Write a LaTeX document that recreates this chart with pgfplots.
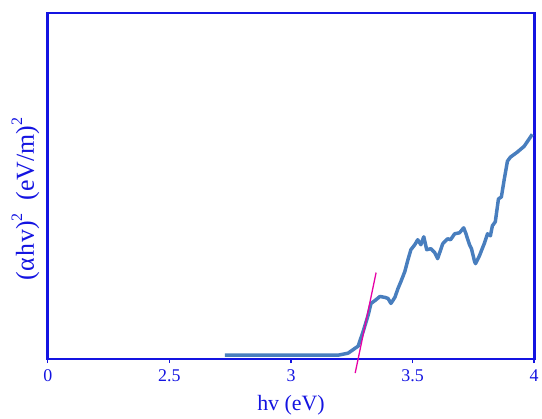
\documentclass[border=0pt]{standalone}
\usepackage{fontspec}
\setmainfont{Liberation Serif}
\usepackage{pgfplots}
\pgfplotsset{compat=1.18}

\definecolor{axblue}{RGB}{20,20,225}
\definecolor{curve}{RGB}{72,126,190}
\definecolor{tang}{RGB}{230,0,165}

\begin{document}
\begin{tikzpicture}
\begin{axis}[
    scale only axis,
    width=489pt, height=348pt,
    xmin=2, xmax=4, ymin=0, ymax=348,
    axis line style={axblue, line width=2.6pt},
    xtick={2,2.5,3,3.5,4},
    xticklabels={0,2.5,3,3.5,4},
    ytick=\empty,
    xtick pos=bottom,
    tick align=outside,
    major tick length=4pt,
    tick style={axblue, line width=1.5pt},
    xticklabel style={font=\fontsize{18}{20}\selectfont, text=axblue, yshift=-3pt},
    /pgf/number format/assume math mode=true,
    xlabel={hv (eV)},
    xlabel style={font=\fontsize{22}{24}\selectfont, text=axblue, yshift=-7pt},
    ylabel={(α\kern0.05em h\kern0.03em v)\raisebox{0.45em}{\fontsize{16}{18}\selectfont 2}\ \ (eV/m)\raisebox{0.45em}{\fontsize{16}{18}\selectfont 2}},
    ylabel style={font=\fontsize{26}{28}\selectfont, text=axblue, yshift=1pt, xshift=-13pt},
    clip=false,
]
% absorption edge data
\addplot[curve, line width=3.5pt, line join=round] coordinates {
 (2.728,4) (2.785,4) (2.867,4) (2.949,4) (3.031,4) (3.112,4) (3.194,4)
 (3.235,6) (3.264,11) (3.276,13) (3.297,28) (3.317,44) (3.329,56)
 (3.346,59) (3.366,63) (3.387,62) (3.399,61) (3.411,56) (3.427,62)
 (3.440,71) (3.452,78) (3.468,88) (3.481,100) (3.493,110) (3.509,115)
 (3.521,120) (3.534,115) (3.546,123) (3.558,110) (3.575,111) (3.591,107)
 (3.603,101) (3.624,116) (3.644,121) (3.656,120) (3.673,126) (3.693,127)
 (3.710,132) (3.718,127) (3.734,115) (3.742,111) (3.755,98) (3.759,96)
 (3.775,104) (3.796,117) (3.808,126) (3.820,124) (3.828,134) (3.840,138)
 (3.853,161) (3.865,163) (3.877,181) (3.890,199) (3.902,203) (3.930,208)
 (3.959,214) (3.992,226)
};
% tangent line
\addplot[tang, line width=1.3pt] coordinates {(3.264,-14) (3.350,87)};
\path (rel axis cs:0,0) ++(-48pt,-56pt) (rel axis cs:1,1) ++(5pt,13pt);
\end{axis}
\end{tikzpicture}
\end{document}
